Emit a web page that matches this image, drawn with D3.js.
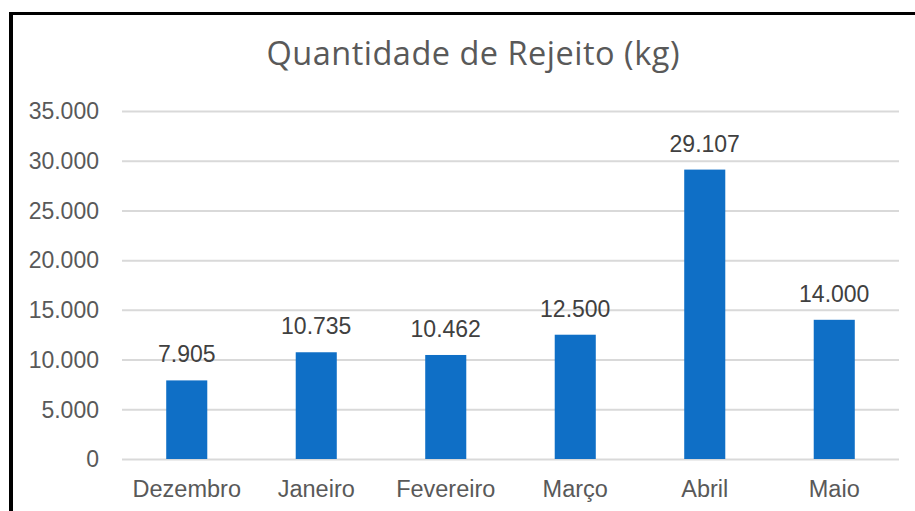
<!DOCTYPE html>
<html><head><meta charset="utf-8">
<script src="https://cdn.jsdelivr.net/npm/d3@7"></script>
<style>body{margin:0;background:#fff}svg{display:block}</style>
</head><body>
<svg id="c" width="915" height="511"></svg>
<script>
const categories = ["Dezembro","Janeiro","Fevereiro","Março","Abril","Maio"];
const values = [7905, 10735, 10462, 12500, 29107, 14000];
const yTicks = [0, 5000, 10000, 15000, 20000, 25000, 30000, 35000];
const title = "Quantidade de Rejeito (kg)";

const svg = d3.select("#c");
const W = 915, H = 511;
const m = {left:122, right:16, top:111, bottom:52};
const fmt = d3.formatLocale({decimal:",", thousands:".", grouping:[3], currency:["R$",""]}).format(",d");

svg.append("rect").attr("width",W).attr("height",H).attr("fill","#fff");
// partial frame (left + top)
svg.append("rect").attr("x",9).attr("y",12).attr("width",W-9).attr("height",3).attr("fill","#000");
svg.append("rect").attr("x",9).attr("y",12).attr("width",4).attr("height",H-12).attr("fill","#000");

const x = d3.scaleBand().domain(categories).range([m.left, W - m.right]).paddingInner(0.683).paddingOuter(0.3415);
const y = d3.scaleLinear().domain([0, 35000]).range([H - m.bottom, m.top]);

// gridlines
const yAxis = d3.axisLeft(y).tickValues(yTicks).tickSize(-(W - m.right - m.left)).tickFormat(fmt).tickPadding(23);
const gy = svg.append("g").attr("transform",`translate(${m.left},0)`).call(yAxis);
gy.select(".domain").remove();
gy.selectAll(".tick line").attr("stroke","#d9d9d9").attr("stroke-width",2);
gy.selectAll(".tick text").attr("fill","#595959").attr("font-family","'Liberation Sans', Arial, sans-serif").attr("font-size",23).attr("dy","0.34em");

// bars
svg.append("g").selectAll("rect").data(values).join("rect")
  .attr("x",(d,i)=>x(categories[i]))
  .attr("width",x.bandwidth())
  .attr("y",d=>y(d))
  .attr("height",d=>y(0)-y(d))
  .attr("fill","#0f6fc6");

// x axis labels
const xAxis = d3.axisBottom(x).tickSize(0).tickPadding(21);
const gx = svg.append("g").attr("transform",`translate(0,${y(0)})`).call(xAxis);
gx.select(".domain").remove();
gx.selectAll(".tick text").attr("fill","#595959").attr("font-family","'Liberation Sans', Arial, sans-serif").attr("font-size",23.5);

// data labels
svg.append("g").selectAll("text").data(values).join("text")
  .attr("x",(d,i)=>x(categories[i]) + x.bandwidth()/2)
  .attr("y",d=>y(d) - 18)
  .attr("text-anchor","middle")
  .attr("fill","#404040")
  .attr("font-family","'Liberation Sans', Arial, sans-serif")
  .attr("font-size",23)
  .text(d=>fmt(d));

// title
svg.append("text").attr("x",473).attr("y",65).attr("text-anchor","middle")
  .attr("fill","#595959").attr("font-family","'Open Sans', sans-serif").attr("font-size",32.5)
  .attr("textLength",413).attr("lengthAdjust","spacing")
  .text(title);
</script>
</body></html>
